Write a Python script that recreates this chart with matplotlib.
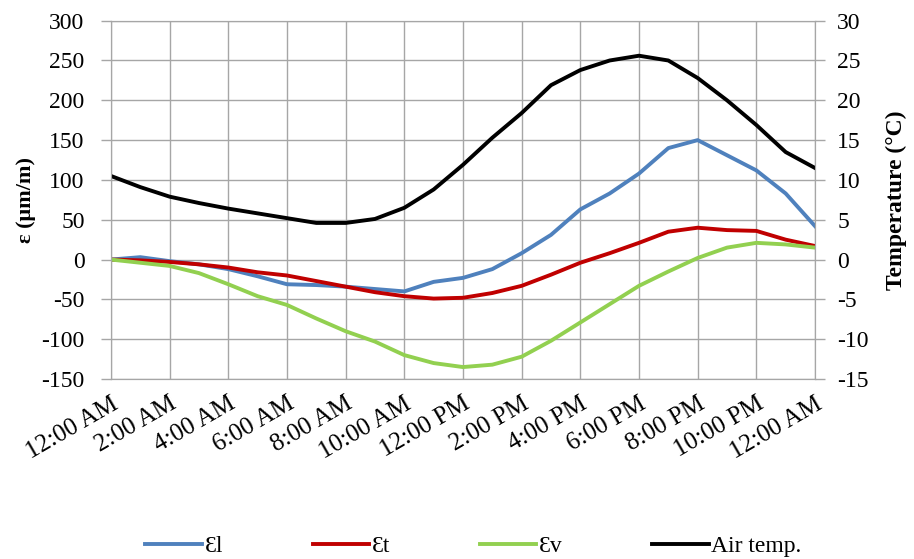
import matplotlib.pyplot as plt

plt.rcParams['font.family'] = ['Liberation Serif', 'DejaVu Serif']
plt.rcParams['axes.unicode_minus'] = False

hours = list(range(25))
tick_labels = ['12:00 AM', '2:00 AM', '4:00 AM', '6:00 AM', '8:00 AM', '10:00 AM',
               '12:00 PM', '2:00 PM', '4:00 PM', '6:00 PM', '8:00 PM', '10:00 PM', '12:00 AM']

# strains (um/m), hourly
eps_l = [0, 3, -2, -6, -12, -21, -31, -32, -34, -37, -40, -28, -23, -12, 8, 31, 63,
         83, 108, 140, 150, 131, 112, 83, 42]
eps_t = [0, -1, -3, -6, -10, -16, -20, -27, -34, -41, -46, -49, -48, -42, -33, -19, -4,
         8, 21, 35, 40, 37, 36, 25, 17]
eps_v = [0, -4, -8, -17, -31, -46, -57, -74, -90, -103, -120, -130, -135, -132, -122, -102,
         -79, -56, -33, -15, 2, 15, 21, 19, 15]
# air temperature (C)
air_temp = [10.5, 9.1, 7.9, 7.1, 6.4, 5.8, 5.2, 4.6, 4.6, 5.1, 6.5, 8.8, 11.9, 15.3,
            18.4, 21.9, 23.8, 25.0, 25.6, 25.0, 22.8, 20.0, 16.9, 13.5, 11.5]

fig = plt.figure(figsize=(9.14, 5.59), dpi=100)
ax = fig.add_axes([0.1214, 0.322, 0.7703, 0.641])
ax2 = ax.twinx()

grid_c = '#a6a6a6'
lw = 2.8
l1, = ax.plot(hours, eps_l, c='#4f81bd', lw=lw, label='Ɛl')
l2, = ax.plot(hours, eps_t, c='#c00000', lw=lw, label='Ɛt')
l3, = ax.plot(hours, eps_v, c='#92d050', lw=lw, label='Ɛv')
l4, = ax2.plot(hours, air_temp, c='black', lw=lw, label='Air temp.')

ax.set_xlim(0, 24)
ax.set_ylim(-150, 300)
ax.set_yticks(range(-150, 301, 50))
ax2.set_ylim(-15, 30)
ax2.set_yticks(range(-15, 31, 5))
ax.set_xticks(range(0, 25, 2))
ax.set_xticklabels(tick_labels, rotation=30, ha='right', rotation_mode='anchor')
ax.grid(True, color=grid_c, lw=1)
ax.set_axisbelow(True)

for a in (ax, ax2):
    for s in a.spines.values():
        s.set_color(grid_c)
    a.tick_params(colors=grid_c, labelcolor='black', labelsize=17, length=7, width=1)
ax.tick_params(axis='y', pad=12)
ax.tick_params(axis='x', pad=10, length=0, labelsize=18)
ax2.tick_params(axis='y', pad=9)

ax.set_ylabel('ε (μm/m)', fontsize=16, fontweight='bold', labelpad=4)
ax2.set_ylabel('Temperature (°C)', fontsize=17, fontweight='bold', labelpad=12)

fig.legend(handles=[l1, l2, l3, l4], loc='center', bbox_to_anchor=(0.518, 0.022), ncol=4,
           frameon=False, fontsize=17, handlelength=2.4, handletextpad=0.1,
           columnspacing=3.8)

fig.savefig('out.png', dpi=100)
